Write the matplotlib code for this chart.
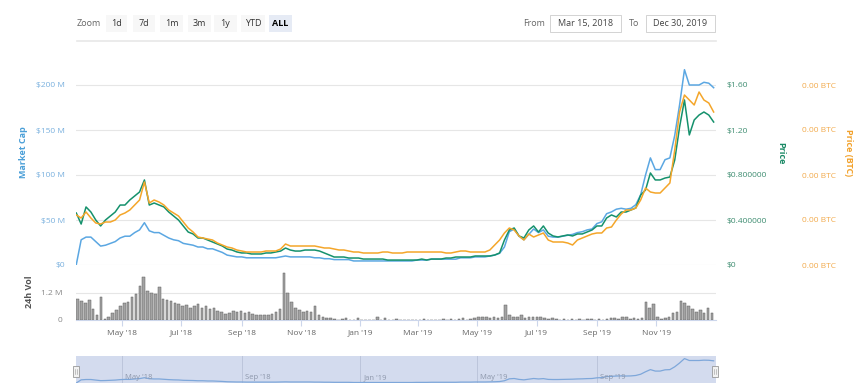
import numpy as np
import matplotlib
matplotlib.use('Agg')
import matplotlib.pyplot as plt
import matplotlib.dates as mdates
import matplotlib.transforms as mtransforms
from matplotlib.patches import Rectangle
from matplotlib.lines import Line2D

plt.rcParams['font.family'] = ['Open Sans', 'DejaVu Sans']

W, H = 864, 383

# ---- data ----
start = np.datetime64('2018-03-15')
end = np.datetime64('2020-01-01')
line_step = 5   # days between line samples
vol_step = 4    # days between volume bars

# market cap, $M
market_cap_m = [
    0.5, 28, 31, 31, 26, 21, 22, 24, 26, 30,
    32, 32, 36, 39, 47, 38, 36, 36, 33, 30,
    28, 27, 24, 23, 22, 20, 20, 18, 18, 16,
    14, 11, 10, 9, 9, 8, 8, 8, 8, 8,
    8, 8, 9, 10, 9, 9, 9, 9, 9, 8,
    8, 7, 7, 6, 6, 6, 6, 4.5, 4.5, 4.5,
    4.5, 4.5, 4.5, 4.5, 4.5, 4.5, 4.5, 4.5, 4.5, 4.5,
    5.5, 5.5, 5.5, 6.5, 6.5, 6.5, 6.5, 6.5, 6.5, 8,
    8, 8, 9, 9, 9, 10, 11, 13, 20, 37,
    40, 32, 28, 34, 40, 36, 39, 32, 31, 31,
    32, 33, 34, 36, 37, 39, 40, 46, 48, 57,
    59, 62, 63, 62, 63, 67, 78, 100, 119, 106,
    106, 117, 119, 144, 178, 217, 200, 200, 200, 203,
    202, 197,
]

# price, USD
price_usd = [
    0.462, 0.364, 0.516, 0.471, 0.400, 0.347, 0.400, 0.436, 0.471, 0.533,
    0.533, 0.578, 0.613, 0.649, 0.756, 0.533, 0.551, 0.533, 0.516, 0.471,
    0.436, 0.400, 0.347, 0.293, 0.276, 0.240, 0.240, 0.222, 0.204, 0.187,
    0.169, 0.142, 0.133, 0.116, 0.107, 0.107, 0.098, 0.098, 0.098, 0.107,
    0.107, 0.116, 0.124, 0.151, 0.133, 0.124, 0.124, 0.133, 0.133, 0.133,
    0.124, 0.107, 0.089, 0.071, 0.071, 0.071, 0.062, 0.062, 0.062, 0.053,
    0.053, 0.053, 0.053, 0.053, 0.044, 0.044, 0.044, 0.044, 0.044, 0.044,
    0.044, 0.053, 0.044, 0.053, 0.053, 0.053, 0.062, 0.062, 0.071, 0.071,
    0.071, 0.071, 0.080, 0.080, 0.080, 0.080, 0.089, 0.107, 0.222, 0.311,
    0.329, 0.258, 0.240, 0.311, 0.347, 0.293, 0.347, 0.284, 0.258, 0.249,
    0.258, 0.267, 0.258, 0.276, 0.276, 0.293, 0.311, 0.347, 0.347, 0.418,
    0.445, 0.427, 0.471, 0.471, 0.489, 0.507, 0.622, 0.667, 0.818, 0.756,
    0.756, 0.773, 0.782, 0.933, 1.227, 1.467, 1.156, 1.289, 1.333, 1.360,
    1.333, 1.271,
]

# price, satoshi
price_btc_sat = [
    5556, 5222, 5889, 5222, 4667, 4556, 4778, 4778, 5000, 5556,
    5778, 6111, 6667, 7222, 9222, 6889, 7222, 7000, 6667, 6111,
    5778, 5444, 4778, 4111, 3667, 3111, 3000, 2889, 2778, 2444,
    2222, 2000, 1889, 1667, 1556, 1444, 1444, 1444, 1444, 1556,
    1556, 1556, 1778, 2333, 2111, 2111, 2111, 2111, 2111, 2111,
    2000, 1889, 1889, 1778, 1667, 1667, 1556, 1444, 1444, 1333,
    1333, 1333, 1333, 1444, 1444, 1333, 1333, 1333, 1444, 1444,
    1444, 1444, 1444, 1444, 1444, 1444, 1333, 1333, 1444, 1556,
    1556, 1444, 1444, 1444, 1444, 1667, 2222, 2778, 3556, 4111,
    3889, 3222, 2778, 3444, 3111, 3333, 3556, 2778, 2556, 2556,
    2556, 2444, 2222, 2778, 3000, 3222, 3444, 3556, 3556, 4111,
    4222, 5000, 5667, 6111, 6111, 6333, 7222, 8556, 8111, 8000,
    8000, 8556, 9111, 12778, 17000, 18889, 18333, 17778, 19222, 18333,
    18000, 17000,
]

# 24h volume, millions
volume_m = [
    0.95, 0.85, 0.75, 0.9, 0.5, 0.2, 1.0, 0.05, 0.15, 0.3,
    0.45, 0.6, 0.75, 0.8, 1.0, 1.15, 1.5, 1.9, 1.3, 1.2,
    1.15, 1.45, 0.95, 0.9, 0.85, 0.75, 0.7, 0.6, 0.65, 0.55,
    0.6, 0.7, 0.55, 0.6, 0.5, 0.55, 0.4, 0.35, 0.25, 0.3,
    0.4, 0.35, 0.38, 0.3, 0.35, 0.25, 0.22, 0.22, 0.22, 0.22,
    0.25, 0.35, 0.5, 2.1, 1.2, 0.8, 0.55, 0.45, 0.35, 0.4,
    0.35, 0.6, 0.2, 0.15, 0.1, 0.08, 0.06, 0.02, 0.03, 0.1,
    0.02, 0.0, 0.1, 0.02, 0.0, 0.01, 0.02, 0.12, 0.0, 0.1,
    0.01, 0.0, 0.03, 0.0, 0.0, 0.02, 0.0, 0.01, 0.0, 0.05,
    0.0, 0.0, 0.01, 0.0, 0.05, 0.0, 0.06, 0.0, 0.03, 0.09,
    0.02, 0.05, 0.1, 0.12, 0.14, 0.12, 0.08, 0.15, 0.1, 0.12,
    0.65, 0.2, 0.15, 0.12, 0.2, 0.1, 0.15, 0.12, 0.14, 0.12,
    0.1, 0.05, 0.08, 0.05, 0.02, 0.06, 0.0, 0.03, 0.0, 0.05,
    0.0, 0.03, 0.06, 0.0, 0.04, 0.0, 0.03, 0.1, 0.08, 0.04,
    0.12, 0.15, 0.05, 0.08, 0.03, 0.1, 0.8, 0.55, 0.7, 0.15,
    0.05, 0.1, 0.15, 0.3, 0.35, 0.85, 0.75, 0.6, 0.5, 0.35,
    0.45, 0.3, 0.55, 0.3,
]

mcap_ticks = [0, 50, 100, 150, 200]
mcap_labels = ['$0', '$50 M', '$100 M', '$150 M', '$200 M']
price_ticks = [0, 0.4, 0.8, 1.2, 1.6]
price_labels = ['$0', '$0.400000', '$0.800000', '$1.20', '$1.60']
btc_ticks = [0, 5000, 10000, 15000, 20000]
vol_ticks = [0, 1.2]
vol_labels = ['0', '1.2 M']
month_ticks = ['2018-05-01', '2018-07-01', '2018-09-01', '2018-11-01', '2019-01-01',
               '2019-03-01', '2019-05-01', '2019-07-01', '2019-09-01', '2019-11-01']
nav_ticks = ['2018-05-01', '2018-09-01', '2019-01-01', '2019-05-01', '2019-09-01']
range_buttons = ['1d', '7d', '1m', '3m', '1y', 'YTD', 'ALL']
date_from = 'Mar 15, 2018'
date_to = 'Dec 30, 2019'

c_mcap = '#5ba7e2'
c_price = '#15916c'
c_btc = '#f4a62a'
grid_c = '#e6e6e6'


def box(x0, y0, x1, y1):
    # pixel box -> figure fraction [left, bottom, width, height]
    return [x0 / W, 1 - y1 / H, (x1 - x0) / W, (y1 - y0) / H]


def fig_rect(fig, x0, y0, x1, y1, **kw):
    fig.add_artist(Rectangle((x0 / W, 1 - y1 / H), (x1 - x0) / W, (y1 - y0) / H,
                             transform=fig.transFigure, **kw))


def fig_text(fig, x, y, s, **kw):
    fig.text(x / W, 1 - y / H, s, **kw)


def month_label(d):
    return mdates.num2date(mdates.date2num(d)).strftime("%b '%y")


line_dates = start + np.arange(len(market_cap_m)) * line_step
vol_dates = start + np.arange(len(volume_m)) * vol_step

fig = plt.figure(figsize=(W / 100, H / 100), dpi=100)
fig.patch.set_facecolor('white')

# ---- main panel ----
ax = fig.add_axes(box(76.3, 62.5, 715.6, 265))
ax.plot(line_dates, market_cap_m, color=c_mcap, lw=1.1)
ax.set_xlim(start, end)
ax.set_ylim(0, 225)
ax.set_yticks(mcap_ticks)
ax.set_yticklabels(mcap_labels)
ax.grid(axis='y', color=grid_c, lw=0.8)
ax.tick_params(axis='y', length=0, pad=8, labelsize=6, labelcolor='#79b0de')
ax.tick_params(axis='x', bottom=False, labelbottom=False)
for s in ax.spines.values():
    s.set_visible(False)

ax_p = ax.twinx()
ax_p.plot(line_dates, price_usd, color=c_price, lw=1.1)
ax_p.set_ylim(0, 1.8)
ax_p.set_yticks(price_ticks)
ax_p.set_yticklabels(price_labels)
ax_p.tick_params(axis='y', length=0, pad=8, labelsize=6, labelcolor='#3d8c70')
for s in ax_p.spines.values():
    s.set_visible(False)

ax_b = ax.twinx()
ax_b.plot(line_dates, price_btc_sat, color=c_btc, lw=1.1)
ax_b.set_ylim(0, 22500)
ax_b.set_yticks(btc_ticks)
ax_b.set_yticklabels(['%.2f BTC' % (t / 1e8) for t in btc_ticks])
ax_b.tick_params(axis='y', length=0, pad=62, labelsize=6, labelcolor='#f2aa4c')
for s in ax_b.spines.values():
    s.set_visible(False)

fig_text(fig, 23, 152, 'Market Cap', rotation=90, ha='center', va='center',
         fontsize=6.5, fontweight='bold', color='#4a9fd8')
fig_text(fig, 781, 153, 'Price', rotation=270, ha='center', va='center',
         fontsize=6.5, fontweight='bold', color='#1b8a66')
fig_text(fig, 849, 153, 'Price (BTC)', rotation=270, ha='center', va='center',
         fontsize=6.5, fontweight='bold', color='#f2a12a')

# ---- volume panel ----
ax_v = fig.add_axes(box(76.3, 270, 715.6, 320))
ax_v.bar(vol_dates, volume_m, width=2.6, align='edge', color='#a3a3a3',
         edgecolor='#5e5e5e', lw=0.35)
ax_v.set_xlim(start, end)
ax_v.set_ylim(0, 2.22)
ax_v.set_yticks(vol_ticks)
ax_v.set_yticklabels(vol_labels)
ax_v.grid(axis='y', color=grid_c, lw=0.8)
ax_v.set_axisbelow(True)
for k, s in ax_v.spines.items():
    s.set_visible(k == 'bottom')
ax_v.spines['bottom'].set_color('#ccd6eb')
ax_v.tick_params(axis='y', length=0, pad=10, labelsize=6, labelcolor='#888888')
tick_dates = np.array(month_ticks, dtype='datetime64[D]')
ax_v.set_xticks(tick_dates)
ax_v.set_xticklabels([month_label(d) for d in tick_dates])
ax_v.tick_params(axis='x', length=4, color='#ccd6eb', pad=3, labelsize=6,
                 labelcolor='#666666')
fig_text(fig, 30, 292, '24h Vol', rotation=90, ha='center', va='center',
         fontsize=6.5, fontweight='bold', color='#555555')

# ---- navigator ----
ax_n = fig.add_axes(box(76.3, 356, 715.6, 383))
ax_n.set_facecolor('#d3dbee')
ax_n.plot(line_dates, market_cap_m, color='#7ea7da', lw=0.9)
ax_n.set_xlim(start, end)
ax_n.set_ylim(0, 240)
nav_dates = np.array(nav_ticks, dtype='datetime64[D]')
ax_n.set_xticks(nav_dates)
ax_n.grid(axis='x', color='#bcc5db', lw=0.7)
ax_n.tick_params(length=0, labelbottom=False, labelleft=False)
for s in ax_n.spines.values():
    s.set_visible(False)
tr = mtransforms.blended_transform_factory(ax_n.transData, ax_n.transAxes)
for d in nav_dates:
    ax_n.text(d + 3, 0.08, month_label(d), transform=tr, fontsize=5.5,
              color='#8d97ab', ha='left', va='bottom')

for hx in (76, 715):
    fig_rect(fig, hx - 3, 366, hx + 3, 377, facecolor='#f2f2f2', edgecolor='#999999', lw=0.6)
    for lx in (hx - 1, hx + 1):
        fig.add_artist(Line2D([lx / W, lx / W], [1 - 369 / H, 1 - 374 / H],
                              transform=fig.transFigure, color='#999999', lw=0.4))

# ---- toolbar ----
fig_text(fig, 77, 23, 'Zoom', ha='left', va='center', fontsize=6.5, color='#666666')
btn_x = [(106, 127), (133, 155), (160, 183), (188, 211), (214, 237), (241, 265), (269, 292)]
for (x0, x1), lab in zip(btn_x, range_buttons):
    active = lab == 'ALL'
    fig_rect(fig, x0, 15, x1, 32, facecolor='#e6ebf5' if active else '#f7f7f7', edgecolor='none')
    fig_text(fig, (x0 + x1) / 2, 23.5, lab, ha='center', va='center', fontsize=6.5,
             color='#000000' if active else '#333333',
             fontweight='bold' if active else 'normal')

fig_text(fig, 545, 23.5, 'From', ha='right', va='center', fontsize=6.5, color='#666666')
fig_rect(fig, 550, 15, 621, 32, facecolor='white', edgecolor='#cccccc', lw=0.6)
fig_text(fig, 585.5, 23.5, date_from, ha='center', va='center', fontsize=6.5, color='#444444')
fig_text(fig, 634.5, 23.5, 'To', ha='center', va='center', fontsize=6.5, color='#666666')
fig_rect(fig, 646, 15, 715, 32, facecolor='white', edgecolor='#cccccc', lw=0.6)
fig_text(fig, 680.5, 23.5, date_to, ha='center', va='center', fontsize=6.5, color='#444444')

fig.add_artist(Line2D([77 / W, 716 / W], [1 - 41 / H, 1 - 41 / H],
                      transform=fig.transFigure, color='#e8e8e8', lw=1.2))

fig.savefig('out.png', dpi=100)
